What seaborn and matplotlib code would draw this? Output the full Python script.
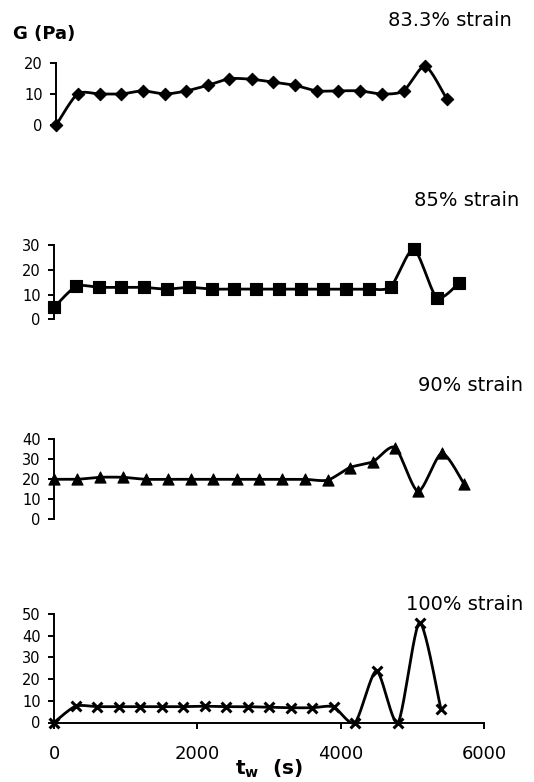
import numpy as np
import pandas as pd
import matplotlib
matplotlib.use("Agg")
import matplotlib.pyplot as plt
import seaborn as sns

# Storage modulus G (Pa) versus waiting time t_w (s) at four strain amplitudes
t_833 = [0, 300, 610, 910, 1210, 1520, 1820, 2120, 2420, 2730,
         3030, 3330, 3640, 3940, 4240, 4550, 4850, 5150, 5450]
g_833 = [0, 10, 10, 10, 11, 10, 11, 12.8, 14.9, 14.7,
         13.8, 12.8, 11, 11, 11, 10, 11, 18.9, 8.5]

t_85 = [0, 310, 630, 940, 1250, 1570, 1890, 2200, 2510, 2820,
        3140, 3450, 3760, 4080, 4390, 4700, 5020, 5340, 5650]
g_85 = [4.8, 13.3, 12.9, 12.9, 12.9, 12.2, 12.9, 12.2, 12.2, 12.2,
        12.2, 12.2, 12.2, 12.2, 12.2, 13.2, 28.3, 8.8, 14.6]

t_90 = [0, 320, 640, 960, 1280, 1590, 1910, 2220, 2550, 2860,
        3180, 3500, 3820, 4130, 4450, 4760, 5080, 5410, 5720]
g_90 = [20, 20, 21, 21, 20, 20, 20, 20, 20, 20,
        20, 20, 19.6, 25.9, 28.8, 35.9, 14, 33, 17.8]

t_100 = [0, 300, 600, 900, 1200, 1500, 1800, 2100, 2400, 2700,
         3000, 3300, 3600, 3900, 4200, 4500, 4800, 5100, 5400]
g_100 = [0, 7.5, 7.3, 7.3, 7.3, 7.3, 7.3, 7.5, 7.3, 7.3,
         7.0, 6.8, 6.8, 7.2, 0, 23.8, 0, 46, 6]

strain_labels = ["83.3% strain", "85% strain", "90% strain", "100% strain"]
y_max = [20, 30, 40, 50]
x_ticks = [0, 2000, 4000, 6000]


def smooth(x, y, n=24, tension=1 / 8):
    """Cubic Bezier smoothing through every point (Catmull-Rom style tangents)."""
    p = np.column_stack([x, y]).astype(float)
    out = [p[0]]
    tt = np.linspace(0, 1, n + 1)[1:]
    for i in range(len(p) - 1):
        p0 = p[i - 1] if i > 0 else p[i]
        p1, p2 = p[i], p[i + 1]
        p3 = p[i + 2] if i + 2 < len(p) else p[i + 1]
        c1 = p1 + (p2 - p0) * tension
        c2 = p2 - (p3 - p1) * tension
        for t in tt:
            b = ((1 - t) ** 3) * p1 + 3 * ((1 - t) ** 2) * t * c1 \
                + 3 * (1 - t) * t ** 2 * c2 + t ** 3 * p2
            out.append(b)
    out = np.array(out)
    return out[:, 0], out[:, 1]


sns.set_style("white")
plt.rcParams["font.family"] = ["DejaVu Sans"]
plt.rcParams["mathtext.fontset"] = "dejavusans"

W, H = 534, 782
fig = plt.figure(figsize=(W / 100, H / 100), dpi=100)

# axes boxes in pixels: (left, y of zero line, y of top tick)
boxes = [(56, 125.3, 62.7), (54, 319.3, 245.0), (54, 519.3, 439.3), (54, 722.5, 614.0)]
series = [(t_833, g_833, "D", 40), (t_85, g_85, "s", 64),
          (t_90, g_90, "^", 64), (t_100, g_100, "x", 50)]
label_pos = [(512, 20), (519, 200), (523, 386), (523, 605)]

for k, ((x0, y0, y1), (t, g, mk, ms)) in enumerate(zip(boxes, series)):
    ax = fig.add_axes([x0 / W, 1 - y0 / H, 430 / W, (y0 - y1) / H])
    df = pd.DataFrame({"t": t, "G": g})
    xs, ys = smooth(df["t"].values, df["G"].values)
    sns.lineplot(x=xs, y=ys, ax=ax, color="black", lw=2.0, sort=False,
                 estimator=None, clip_on=False, zorder=2)
    if mk == "x":
        sns.scatterplot(data=df, x="t", y="G", ax=ax, marker="x", s=ms,
                        color="black", linewidth=2.2, clip_on=False, zorder=3)
    else:
        sns.scatterplot(data=df, x="t", y="G", ax=ax, marker=mk, s=ms,
                        color="black", edgecolor="black", linewidth=0.8,
                        clip_on=False, zorder=3)
    ax.set_xlim(0, 6000)
    ax.set_ylim(0, y_max[k])
    ax.set_yticks(np.arange(0, y_max[k] + 1, 10))
    ax.set_xlabel("")
    ax.set_ylabel("")
    for s in ("top", "right"):
        ax.spines[s].set_visible(False)
    ax.spines["left"].set_linewidth(1.4)
    ax.spines["left"].set_color("black")
    ax.tick_params(axis="y", direction="out", length=4, width=1.4,
                   pad=5.5, labelsize=10.5, colors="black", left=True)
    if k < 3:
        ax.spines["bottom"].set_visible(False)
        ax.set_xticks([])
    else:
        ax.spines["bottom"].set_linewidth(1.4)
        ax.spines["bottom"].set_color("black")
        ax.set_xticks(x_ticks)
        ax.tick_params(axis="x", direction="out", length=4.5, width=1.4,
                       pad=12, labelsize=13, colors="black", bottom=True)
    lx, ly = label_pos[k]
    fig.text(lx / W, 1 - ly / H, strain_labels[k], ha="right", va="center",
             fontsize=14, color="black")

fig.text(13 / W, 1 - 34 / H, "G (Pa)", ha="left", va="center",
         fontsize=13, fontweight="bold", color="black")
fig.text(269 / W, 1 - 769 / H, r"$\mathbf{t_w}$  (s)", ha="center", va="center",
         fontsize=14.5, fontweight="bold", color="black")

fig.savefig("out.png", dpi=100)
